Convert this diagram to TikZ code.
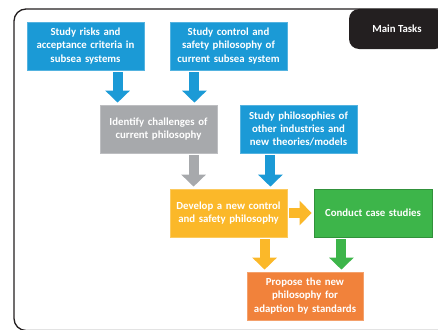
\documentclass[tikz,border=0pt]{standalone}
\usepackage{fontspec}
\setmainfont{Carlito}
\usepackage{xcolor}
\usetikzlibrary{positioning,arrows.meta}

\definecolor{cblue}{HTML}{1B9AD6}
\definecolor{cgrey}{HTML}{A7A9AC}
\definecolor{cyellow}{HTML}{FBB829}
\definecolor{cgreen}{HTML}{3DB54A}
\definecolor{corange}{HTML}{F1823B}
\definecolor{cdark}{HTML}{231F20}

\tikzset{
  task/.style={draw=#1!75!white, fill=#1, line width=0.8pt, text=white,
    font=\bfseries\fontsize{10.8}{13.3}\selectfont, align=center,
    minimum width=117pt, minimum height=48pt, text width=114pt, inner sep=0pt},
  barrow/.style={draw=#1, line width=10pt, shorten <=2pt, shorten >=2pt,
    -{Triangle[width=24pt,length=12pt]}},
}

\begin{document}
\begin{tikzpicture}[node distance=80pt, on grid]
   \path[use as bounding box, clip] (0,0) rectangle (438pt,-329pt);
   % outer frame, cut by the page edge
   \draw[cdark, line width=1.3pt, rounded corners=12pt] (14pt,-9pt) rectangle (470pt,-330.5pt);
   \node[fill=cdark, rounded corners=10pt, text=white, minimum width=96pt, minimum height=40pt,
     font=\bfseries\fontsize{10.8}{13}\selectfont] (main) at (397pt,-29pt) {Main Tasks};

   \node[task=cblue] (risk) at (85.5pt,-46pt) {Study risks and\\acceptance criteria in\\subsea systems};
   \node[task=cblue] (control) [right=143pt of risk] {Study control and\\safety philosophy of\\current subsea system};
   \node[task=cgrey] (ident) [below right=83pt and 73pt of risk] {Identify challenges of\\current philosophy};
   \node[task=cblue] (other) [right=140pt of ident] {Study philosophies of\\other industries and\\new theories/models};
   \node[task=cyellow] (develop) [below right=84pt and 70pt of ident] {Develop a new control\\and safety philosophy};
   \node[task=cgreen, draw=cgreen!80!black, minimum width=118pt] (case) [right=144.5pt of develop] {Conduct case studies};
   \node[task=corange, minimum width=116pt] (propose) [below right=83pt and 76.5pt of develop] {Propose the new\\philosophy for\\adaption by standards};

   \coordinate (a1) at ([xshift=18pt]ident.north west);
   \coordinate (a2) at ([xshift=-23pt]ident.north east);
   \coordinate (a3) at ([xshift=24pt]develop.north west);
   \coordinate (a4) at ([xshift=-17pt]develop.north east);
   \coordinate (a5) at ([xshift=18pt]propose.north west);
   \coordinate (a6) at ([xshift=-22pt]propose.north east);

   \draw[barrow=cblue] (a1 |- risk.south) -- (a1);
   \draw[barrow=cblue] (a2 |- control.south) -- (a2);
   \draw[barrow=cgrey] (a3 |- ident.south) -- (a3);
   \draw[barrow=cblue] (a4 |- other.south) -- (a4);
   \draw[barrow=cyellow] (develop.east) -- (case.west);
   \draw[barrow=cyellow] (a5 |- develop.south) -- (a5);
   \draw[barrow=cgreen] (a6 |- case.south) -- (a6);
\end{tikzpicture}
\end{document}
